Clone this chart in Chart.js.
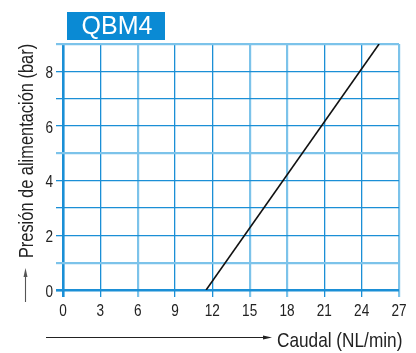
<!DOCTYPE html>
<html>
<head>
<meta charset="utf-8">
<script src="https://cdn.jsdelivr.net/npm/chart.js@4/dist/chart.umd.min.js"></script>
<style>
  html, body { margin: 0; padding: 0; background: #fff; }
  #wrap { width: 416px; height: 353px; }
</style>
</head>
<body>
<div id="wrap"><canvas id="chart" width="416" height="353"></canvas></div>
<script>
const chartTitle = "QBM4";
const xTitle = "Caudal (NL/min)";
const yTitle = "Presión de alimentación (bar)";

const flowTicks = [0, 3, 6, 9, 12, 15, 18, 21, 24, 27];
const pressureTicks = [0, 1, 2, 3, 4, 5, 6, 7, 8, 9];
const pressureLabels = [0, 2, 4, 6, 8];

// supply pressure vs. flow
const flow = [11.5, 25.4];
const pressure = [0, 9];

const sans = "'Liberation Sans', Arial, sans-serif";
const blue = "#1b8fd6";
const paleBlue = "#7cc3ea";
const paleX = [6, 15, 18, 27];
const paleY = [1, 5, 9];

function gridColor(pale) {
  return (ctx) => {
    const v = ctx.tick ? ctx.tick.value : 0;
    return pale.includes(v) ? paleBlue : blue;
  };
}
function gridWidth(pale) {
  return (ctx) => {
    const v = ctx.tick ? ctx.tick.value : 0;
    if (v === 0) return 2.6;
    return pale.includes(v) ? 2.2 : 1.3;
  };
}

// narrow text: squeeze the normal face horizontally
function narrowText(c, text, x, y, squeeze) {
  const w = c.measureText(text).width * squeeze;
  c.fillText(text, x, y, w);
}

const decorations = {
  id: "decorations",
  afterDraw(chart) {
    const c = chart.ctx;
    const xs = chart.scales.x;
    const ys = chart.scales.y;
    c.save();

    // tick labels
    c.fillStyle = "#222";
    c.font = "17px " + sans;
    c.textBaseline = "alphabetic";
    c.textAlign = "center";
    xs.ticks.forEach((t) => {
      narrowText(c, String(t.value), xs.getPixelForValue(t.value), 316, 0.8);
    });
    c.textAlign = "right";
    ys.ticks.forEach((t) => {
      if (!pressureLabels.includes(t.value)) return;
      narrowText(c, String(t.value), 53, ys.getPixelForValue(t.value) + 6.5, 0.8);
    });

    // title badge
    c.fillStyle = "#0a8ad4";
    c.fillRect(67, 12, 98, 28);
    c.fillStyle = "#fff";
    c.font = "25px " + sans;
    c.textAlign = "center";
    c.textBaseline = "middle";
    c.fillText(chartTitle, 117, 27);

    // x axis title with arrow
    c.strokeStyle = "#222";
    c.fillStyle = "#222";
    c.lineWidth = 1.2;
    c.beginPath();
    c.moveTo(46, 337.5);
    c.lineTo(266, 337.5);
    c.stroke();
    c.beginPath();
    c.moveTo(272, 337.5);
    c.lineTo(263, 335.5);
    c.lineTo(263, 339.5);
    c.closePath();
    c.fill();
    c.font = "21px " + sans;
    c.textAlign = "left";
    c.textBaseline = "alphabetic";
    narrowText(c, xTitle, 277, 347, 0.82);

    // y axis title with arrow
    c.strokeStyle = "#555";
    c.fillStyle = "#555";
    c.lineWidth = 1.1;
    c.beginPath();
    c.moveTo(25.5, 302);
    c.lineTo(25.5, 274);
    c.stroke();
    c.beginPath();
    c.moveTo(25.5, 268);
    c.lineTo(23.5, 277);
    c.lineTo(27.5, 277);
    c.closePath();
    c.fill();
    c.fillStyle = "#222";
    c.translate(27.5, 151);
    c.rotate(-Math.PI / 2);
    c.font = "20px " + sans;
    c.textAlign = "center";
    c.textBaseline = "middle";
    narrowText(c, yTitle, 0, 0, 0.82);

    c.restore();
  },
};

new Chart(document.getElementById("chart"), {
  type: "scatter",
  data: {
    datasets: [
      {
        data: flow.map((x, i) => ({ x, y: pressure[i] })),
        showLine: true,
        borderColor: "#111",
        borderWidth: 1.6,
        pointRadius: 0,
        fill: false,
      },
    ],
  },
  options: {
    responsive: false,
    animation: false,
    layout: { padding: { top: 44, right: 17, bottom: 0, left: 0 } },
    plugins: { legend: { display: false }, tooltip: { enabled: false } },
    scales: {
      x: {
        type: "linear",
        min: 0,
        max: 27,
        afterBuildTicks: (s) => { s.ticks = flowTicks.map((v) => ({ value: v })); },
        afterFit: (s) => { s.height = 63; },
        border: { display: false },
        grid: {
          color: gridColor(paleX),
          lineWidth: gridWidth(paleX),
          tickLength: 7,
        },
        ticks: { display: false },
      },
      y: {
        type: "linear",
        min: 0,
        max: 9,
        afterBuildTicks: (s) => { s.ticks = pressureTicks.map((v) => ({ value: v })); },
        afterFit: (s) => { s.width = 63; },
        border: { display: false },
        grid: {
          color: gridColor(paleY),
          lineWidth: gridWidth(paleY),
          tickLength: 7,
        },
        ticks: { display: false },
      },
    },
  },
  plugins: [decorations],
});
</script>
</body>
</html>
